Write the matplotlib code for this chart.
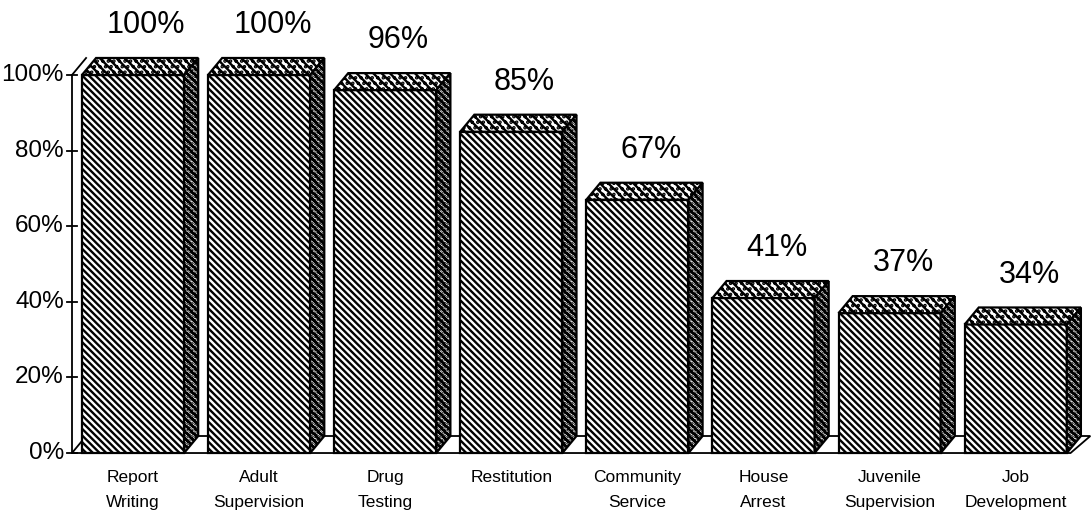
import matplotlib
matplotlib.use("Agg")
import matplotlib.pyplot as plt
from matplotlib.patches import Polygon

categories = ["Report\nWriting", "Adult\nSupervision", "Drug\nTesting", "Restitution",
              "Community\nService", "House\nArrest", "Juvenile\nSupervision", "Job\nDevelopment"]
values = [100, 100, 96, 85, 67, 41, 37, 34]
value_labels = ["100%", "100%", "96%", "85%", "67%", "41%", "37%", "34%"]
y_ticks = [0, 20, 40, 60, 80, 100]
y_tick_labels = ["0%", "20%", "40%", "60%", "80%", "100%"]

FONT = ["Liberation Sans Narrow", "Liberation Sans", "DejaVu Sans"]
plt.rcParams["hatch.linewidth"] = 1.7

fig = plt.figure(figsize=(10.92, 5.31), dpi=100)
ax = fig.add_axes([0, 0, 1, 1])
ax.set_xlim(-1.0547, 7.605)
ax.set_ylim(-20.63, 119.84)
ax.axis("off")

width = 0.81
dx = 0.112   # depth offset (x, data units)
dy = 4.5     # depth offset (y, data units)
xs = list(range(len(values)))

# floor
x_left = -0.484
x_right = xs[-1] + width / 2 + 0.03
floor = Polygon([(x_left, 0), (x_right, 0), (x_right + dx * 1.4, dy), (x_left + dx, dy)],
                closed=True, facecolor="white", edgecolor="black", lw=1.3, zorder=1)
ax.add_patch(floor)

# y axis + back wall edges
ax.plot([x_left, x_left], [0, 100], color="black", lw=1.3, zorder=2)
ax.plot([x_left, x_left + dx], [100, 100 + dy], color="black", lw=1.3, zorder=2)
for t, lab in zip(y_ticks, y_tick_labels):
    ax.plot([x_left - 0.04, x_left + 0.04], [t, t], color="black", lw=1.3, zorder=2)
    ax.text(x_left - 0.065, t, lab, ha="right", va="center", fontsize=17.5,
            family=FONT, color="black")

# bars
bars = ax.bar(xs, values, width=width, facecolor="white", edgecolor="black",
              hatch="\\\\\\\\\\", lw=1.6, zorder=3)
for b, v in zip(bars, values):
    x0 = b.get_x()
    x1 = x0 + b.get_width()
    top = Polygon([(x0, v), (x1, v), (x1 + dx, v + dy), (x0 + dx, v + dy)], closed=True,
                  facecolor="white", edgecolor="black", hatch="\\\\\\\\...", lw=1.6, zorder=3)
    side = Polygon([(x1, 0), (x1 + dx, dy), (x1 + dx, v + dy), (x1, v)], closed=True,
                   facecolor="white", edgecolor="black", hatch="\\\\\\\\\\.....", lw=1.6, zorder=3)
    ax.add_patch(top)
    ax.add_patch(side)

# value labels
for x, v, lab in zip(xs, values, value_labels):
    ax.text(x + dx / 2 + 0.05, v + 13.2, lab, ha="center", va="center", fontsize=22,
            family=FONT, color="black")

# category labels
for x, lab in zip(xs, categories):
    ax.text(x, -4.4, lab, ha="center", va="top", fontsize=12.5, family=FONT,
            color="black", linespacing=1.85)

fig.savefig("out.png", dpi=100)
